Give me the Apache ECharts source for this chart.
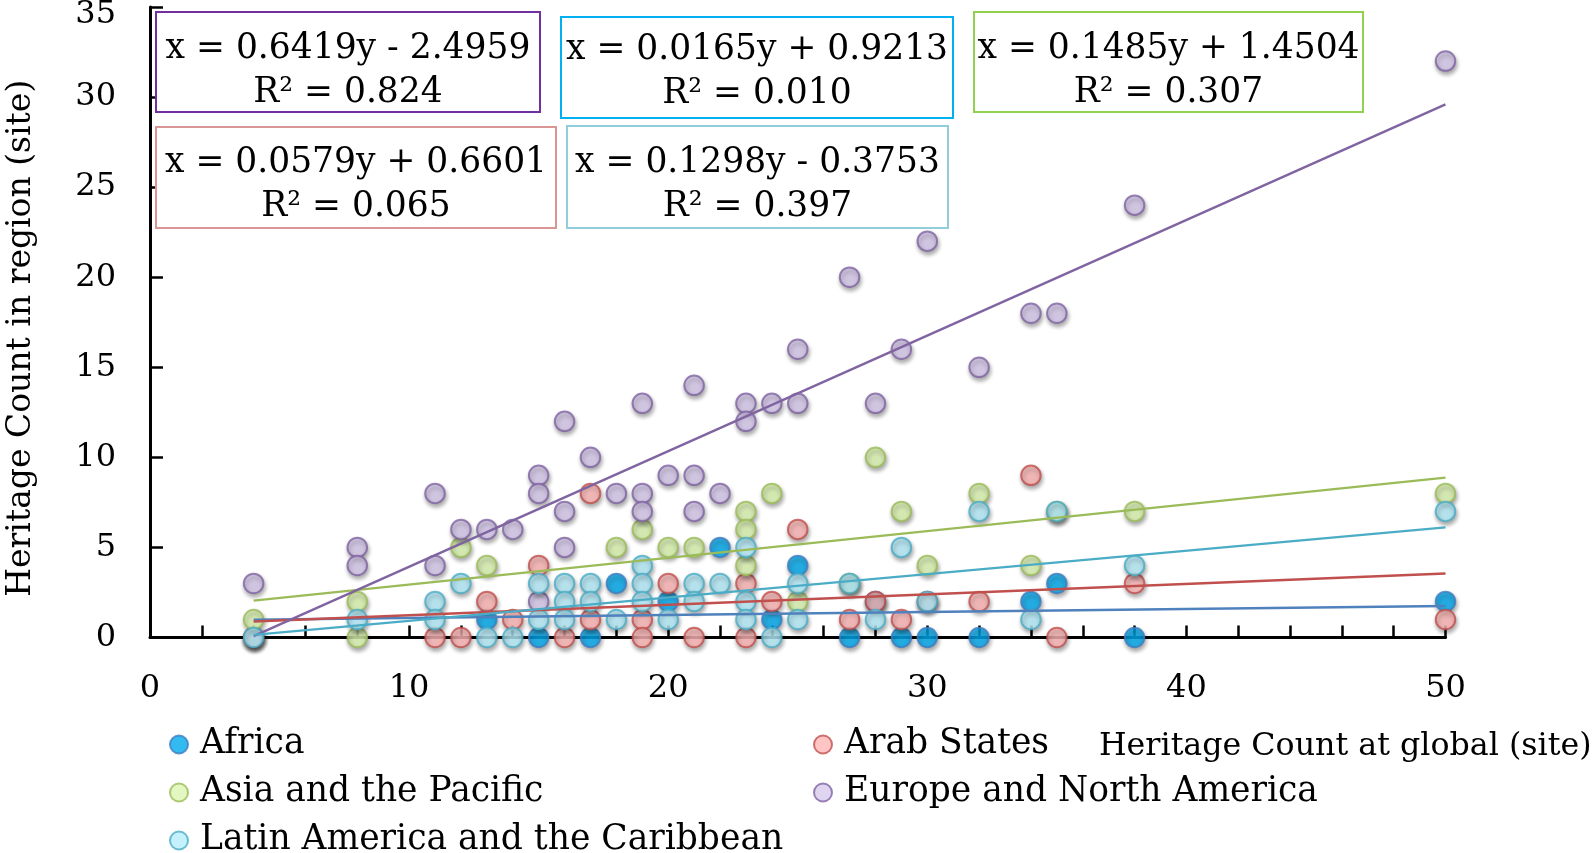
<!DOCTYPE html>
<html><head><meta charset="utf-8">
<script src="https://cdn.jsdelivr.net/npm/echarts@6/dist/echarts.min.js"></script>
<style>html,body{margin:0;padding:0;background:#fff}#c{width:1594px;height:853px}</style>
</head><body><div id="c"></div>
<script>
// ---------- data ----------
const regions = ['Africa', 'Arab States', 'Asia and the Pacific', 'Europe and North America', 'Latin America and the Caribbean'];
const africa = [[4,0],[13,1],[15,0],[17,0],[18,3],[20,2],[22,5],[24,1],[25,4],[27,0],[28,2],[29,0],[30,0],[32,0],[34,2],[35,3],[38,0],[50,2]];
const arab = [[4,0],[11,0],[12,0],[13,2],[14,1],[15,4],[16,0],[17,8],[17,1],[19,1],[19,0],[20,3],[21,0],[23,3],[23,0],[24,2],[25,6],[27,1],[28,2],[29,1],[30,2],[32,2],[34,9],[35,0],[38,3],[50,1]];
const asia = [[4,1],[8,2],[8,0],[12,5],[13,4],[18,5],[19,6],[20,5],[21,5],[23,7],[23,6],[23,4],[24,8],[25,2],[27,3],[28,10],[29,7],[30,4],[32,8],[34,4],[35,7],[38,7],[50,8]];
const europe = [[4,3],[8,5],[8,4],[11,8],[11,4],[12,6],[13,6],[14,6],[15,9],[15,8],[15,2],[16,12],[16,7],[16,5],[17,10],[18,8],[19,13],[19,8],[19,7],[20,9],[21,14],[21,9],[21,7],[22,8],[23,13],[23,12],[24,13],[25,16],[25,13],[27,20],[28,13],[29,16],[30,22],[32,15],[34,18],[35,18],[38,24],[50,32]];
const latin = [[4,0],[8,1],[11,2],[11,1],[12,3],[13,0],[14,0],[15,3],[15,1],[16,3],[16,2],[16,1],[17,3],[17,2],[18,1],[19,4],[19,3],[19,2],[20,1],[21,3],[21,2],[22,3],[23,5],[23,2],[23,1],[24,0],[25,3],[25,1],[27,3],[28,1],[29,5],[30,2],[32,7],[34,1],[35,7],[38,4],[50,7]];
const slopes = [0.0165, 0.0579, 0.1485, 0.6419, 0.1298];
const intercepts = [0.9213, 0.6601, 1.4504, -2.4959, -0.3753];
const r2 = ['0.010', '0.065', '0.307', '0.824', '0.397'];
const xAxisName = 'Heritage Count at global (site)';
const yAxisName = 'Heritage Count in region (site)';

// ---------- styles ----------
const seriesData = [africa, arab, asia, europe, latin];
const fills = ['#00aaee', '#ffb6b6', '#dcf5b2', '#d8caee', '#b5edfb'];
const borders = ['#3d7dc0', '#c0504d', '#9bbb59', '#8064a2', '#4bacc6'];
const lineColors = ['#4f81bd', '#c0504d', '#9bbb59', '#8064a2', '#4bacc6'];
const boxColors = ['#00b0f0', '#d99694', '#92d050', '#7030a0', '#92cddc'];
// box layout [x, y, w, h, textCenterY]
const boxes = [
  [561, 17, 392, 101, 72],
  [156, 127, 400, 101, 185],
  [974, 12, 389, 100, 71],
  [156, 12, 384, 100, 71],
  [567, 126, 381, 102, 185]
];
// legend layout [left, top] for each region
const legendPos = [[169, 727], [813, 727], [169, 775], [813, 775], [169, 823]];
const FONT = '"DejaVu Serif", "Liberation Serif", serif';

const series = [];
regions.forEach((name, i) => {
  series.push({
    name: name, type: 'scatter', data: seriesData[i], symbol: 'circle', symbolSize: 19.5,
    z: 2 + i,
    itemStyle: { color: fills[i], borderColor: borders[i], borderWidth: 2,
      shadowColor: 'rgba(0,0,0,0.4)', shadowBlur: 4, shadowOffsetX: 1, shadowOffsetY: 3 },
    emphasis: { disabled: true }
  });
});
regions.forEach((name, i) => {
  const xs = seriesData[i].map(p => p[0]);
  const x0 = Math.min(...xs), x1 = Math.max(...xs);
  series.push({
    name: name + ' trend', type: 'line', symbol: 'none', z: 20, silent: true,
    data: [[x0, slopes[i] * x0 + intercepts[i]], [x1, slopes[i] * x1 + intercepts[i]]],
    lineStyle: { color: lineColors[i], width: 2.4 }
  });
});

const graphics = [];
regions.forEach((name, i) => {
  const b = boxes[i];
  const eq = 'x = ' + slopes[i].toFixed(4) + 'y ' + (intercepts[i] < 0 ? '- ' : '+ ') + Math.abs(intercepts[i]).toFixed(4);
  graphics.push({ type: 'rect', shape: { x: b[0], y: b[1], width: b[2], height: b[3] },
    style: { fill: '#fff', stroke: boxColors[i], lineWidth: 2 }, z: 100 });
  graphics.push({ type: 'text', x: b[0] + b[2] / 2, y: b[4], z: 101,
    style: { text: eq + '\nR² = ' + r2[i], fontFamily: 'DejaVu Serif', fontSize: 34.5, lineHeight: 44,
      fill: '#000', align: 'center', verticalAlign: 'middle', textAlign: 'center', textVerticalAlign: 'middle' } });
});

const legends = regions.map((name, i) => ({
  orient: 'horizontal', left: legendPos[i][0], top: legendPos[i][1], data: [name],
  itemWidth: 18, itemHeight: 18, icon: 'circle', padding: 0,
  textStyle: { fontFamily: FONT, fontSize: 34.5, color: '#000', lineHeight: 34, padding: [0, 0, 0, 7] },
  selectedMode: false
}));

const labelFont = { fontFamily: FONT, fontSize: 32, color: '#000' };

const chart = echarts.init(document.getElementById('c'), null, { renderer: 'canvas' });
chart.setOption({
  backgroundColor: '#fff',
  animation: false,
  grid: { left: 150, top: 7, width: 1295.5, height: 630.5, containLabel: false, outerBoundsMode: 'none' },
  xAxis: {
    type: 'value', min: 0, max: 50, interval: 10,
    name: xAxisName, nameLocation: 'end', nameGap: 146,
    nameTextStyle: { fontFamily: FONT, fontSize: 31.7, color: '#000', align: 'right', verticalAlign: 'top', padding: [93, 0, 0, 0] },
    axisLine: { show: true, lineStyle: { color: '#000', width: 3 } },
    axisTick: { show: true, inside: true, length: 12, lineStyle: { color: '#000', width: 2.5 } },
    minorTick: { show: true, splitNumber: 5, length: 12, lineStyle: { color: '#000', width: 2.5 } },
    axisLabel: Object.assign({ margin: 35 }, labelFont),
    splitLine: { show: false }, minorSplitLine: { show: false }
  },
  yAxis: {
    type: 'value', min: 0, max: 35, interval: 5,
    name: yAxisName, nameLocation: 'middle', nameGap: 112,
    nameTextStyle: { fontFamily: FONT, fontSize: 33, color: '#000', padding: [0, 32, 0, 0] },
    axisLine: { show: true, lineStyle: { color: '#000', width: 3 } },
    axisTick: { show: true, inside: true, length: 13, lineStyle: { color: '#000', width: 2.5 } },
    axisLabel: Object.assign({
      margin: 34,
      formatter: v => (v === 35 ? '{top|' + v + '}' : String(v)),
      rich: { top: Object.assign({ padding: [16, 0, 0, 0] }, labelFont) }
    }, labelFont),
    splitLine: { show: false }
  },
  legend: legends,
  graphic: graphics,
  series: series
});
</script>
</body></html>
